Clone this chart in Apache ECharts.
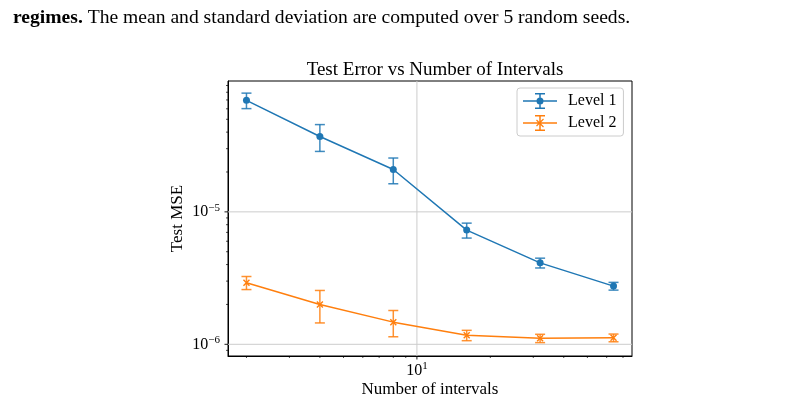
<!DOCTYPE html>
<html>
<head>
<meta charset="utf-8">
<script src="https://cdn.jsdelivr.net/npm/echarts@6/dist/echarts.min.js"></script>
<style>
  html, body { margin: 0; padding: 0; background: #fff; }
  #chart { width: 800px; height: 401px; }
</style>
</head>
<body>
<div id="chart"></div>
<script>
// data
var intervals = [2, 4, 8, 16, 32, 64];
var level1Mean = [6.95e-5, 3.71e-5, 2.09e-5, 7.28e-6, 4.12e-6, 2.75e-6];
var level1Std = [0.93e-5, 0.85e-5, 0.46e-5, 0.94e-6, 0.35e-6, 0.185e-6];
var level2Mean = [2.92e-6, 2.00e-6, 1.47e-6, 1.17e-6, 1.11e-6, 1.12e-6];
var level2Std = [0.33e-6, 0.55e-6, 0.33e-6, 0.105e-6, 0.08e-6, 0.075e-6];

// axis ranges and tick values
var xMin = 1.68, xMax = 76.2;
var yMin = 8.16e-7, yMax = 9.73e-5;
var xTicks = [2, 3, 4, 5, 6, 7, 8, 9, 10, 20, 30, 40, 50, 60, 70];
var xMajor = [10];
var yTicks = [9e-7, 1e-6, 2e-6, 3e-6, 4e-6, 5e-6, 6e-6, 7e-6, 8e-6, 9e-6,
              1e-5, 2e-5, 3e-5, 4e-5, 5e-5, 6e-5, 7e-5, 8e-5, 9e-5];
var yMajor = [1e-6, 1e-5];

var blue = '#1f77b4', orange = '#ff7f0e';
var serif = '"Liberation Serif", "DejaVu Serif", serif';

var crossSymbol = 'path://M0,1L1,0L7,6L6,7Z M6,0L7,1L1,7L0,6Z';
var iconL1 = 'path://M0 7.25H34V8.75H0Z M16.25 0H17.75V16H16.25Z M12 0H22V1.5H12Z M12 14.5H22V16H12Z M13.5 8A3.5 3.5 0 1 1 20.5 8A3.5 3.5 0 1 1 13.5 8Z';
var iconL2 = 'path://M0 7.25H34V8.75H0Z M16.25 0H17.75V16H16.25Z M12 0H22V1.5H12Z M12 14.5H22V16H12Z ' +
    'M13.92 4.58L20.92 11.58L20.08 12.42L13.08 5.42Z M13.92 11.42L13.08 10.58L20.08 3.58L20.92 4.42Z';

function isPow10(v) {
    var l = Math.log(v) / Math.LN10;
    return Math.abs(l - Math.round(l)) < 1e-6;
}
function inList(v, list) {
    for (var i = 0; i < list.length; i++) {
        if (Math.abs(v / list[i] - 1) < 1e-6) return true;
    }
    return false;
}
function powLabel(v) {
    if (!isPow10(v)) return '';
    var e = Math.round(Math.log(v) / Math.LN10);
    var s = String(e).replace('-', '\u2212');
    return '{b|10}{s|' + s + '}';
}

function errData(mean, std) {
    return intervals.map(function (x, i) {
        return [x, mean[i] - std[i], mean[i] + std[i]];
    });
}

function errorBarSeries(name, color, data) {
    return {
        name: name,
        type: 'custom',
        z: 3,
        renderItem: function (params, api) {
            var x = api.value(0);
            var lo = api.coord([x, api.value(1)]);
            var hi = api.coord([x, api.value(2)]);
            var half = 5;
            var style = { stroke: color, lineWidth: 1.5, opacity: 0.85 };
            return {
                type: 'group',
                children: [
                    { type: 'line', shape: { x1: lo[0], y1: lo[1], x2: hi[0], y2: hi[1] }, style: style },
                    { type: 'line', shape: { x1: lo[0] - half, y1: lo[1], x2: lo[0] + half, y2: lo[1] }, style: style },
                    { type: 'line', shape: { x1: hi[0] - half, y1: hi[1], x2: hi[0] + half, y2: hi[1] }, style: style }
                ]
            };
        },
        data: data
    };
}

var gridColor = '#cccccc';

// ticks and grid lines on the x axis
var xTickSeries = {
    name: 'xticks',
    type: 'custom',
    z: 1,
    silent: true,
    renderItem: function (params, api) {
        var cs = params.coordSys;
        var v = api.value(0);
        var p = api.coord([v, yMin]);
        var major = inList(v, xMajor);
        var bottom = cs.y + cs.height;
        var children = [{
            type: 'line',
            shape: { x1: p[0], y1: bottom, x2: p[0], y2: bottom + (major ? 3.5 : 2) },
            style: { stroke: '#000', lineWidth: major ? 0.9 : 0.7 }
        }];
        if (major) {
            children.push({
                type: 'line',
                shape: { x1: p[0], y1: cs.y, x2: p[0], y2: bottom },
                style: { stroke: gridColor, lineWidth: 1 }
            });
        }
        return { type: 'group', children: children };
    },
    data: xTicks.map(function (v) { return [v, yMin]; })
};

// ticks and grid lines on the y axis
var yTickSeries = {
    name: 'yticks',
    type: 'custom',
    z: 1,
    silent: true,
    renderItem: function (params, api) {
        var cs = params.coordSys;
        var v = api.value(1);
        var p = api.coord([xMin, v]);
        var major = inList(v, yMajor);
        var children = [{
            type: 'line',
            shape: { x1: cs.x, y1: p[1], x2: cs.x - (major ? 3.5 : 2), y2: p[1] },
            style: { stroke: '#000', lineWidth: major ? 0.9 : 0.7 }
        }];
        if (major) {
            children.push({
                type: 'line',
                shape: { x1: cs.x, y1: p[1], x2: cs.x + cs.width, y2: p[1] },
                style: { stroke: gridColor, lineWidth: 1 }
            });
        }
        return { type: 'group', children: children };
    },
    data: yTicks.map(function (v) { return [xMin, v]; })
};

var chart = echarts.init(document.getElementById('chart'));
var option = {
    backgroundColor: '#fff',
    animation: false,
    title: [
        {
            text: '{b|regimes.} The mean and standard deviation are computed over 5 random seeds.',
            left: 8,
            top: 3,
            textStyle: {
                fontFamily: serif,
                fontSize: 19.6,
                fontWeight: 'normal',
                color: '#000',
                rich: {
                    b: { fontFamily: serif, fontSize: 19.6, fontWeight: 'bold', color: '#000' }
                }
            }
        },
        {
            text: 'Test Error vs Number of Intervals',
            left: 430,
            textAlign: 'center',
            top: 56,
            textStyle: { fontFamily: serif, fontSize: 19, fontWeight: 'normal', color: '#000' }
        }
    ],
    legend: {
        orient: 'vertical',
        left: 517,
        top: 88,
        padding: [5, 7, 5, 6],
        itemWidth: 34,
        itemHeight: 16,
        itemGap: 6,
        backgroundColor: 'rgba(255,255,255,0.8)',
        borderColor: '#cccccc',
        borderWidth: 1,
        borderRadius: 3,
        itemStyle: { borderWidth: 0 },
        textStyle: { fontFamily: serif, fontSize: 16, color: '#000', padding: [0, 0, 0, 6] },
        data: [
            { name: 'Level 1', icon: iconL1 },
            { name: 'Level 2', icon: iconL2 }
        ]
    },
    grid: {
        left: 228,
        top: 81,
        width: 404,
        height: 275,
        outerBoundsMode: 'none',
        containLabel: false,
        show: true,
        borderColor: '#000',
        borderWidth: 1,
        backgroundColor: 'transparent'
    },
    xAxis: {
        type: 'log',
        logBase: 10,
        min: xMin,
        max: xMax,
        name: 'Number of intervals',
        nameLocation: 'middle',
        nameGap: 25,
        nameMoveOverlap: false,
        nameTextStyle: { fontFamily: serif, fontSize: 17, color: '#000' },
        axisLine: { show: true, lineStyle: { color: '#000', width: 1 } },
        axisTick: { show: false },
        splitLine: { show: false },
        axisLabel: {
            margin: 5,
            formatter: powLabel,
            showMinLabel: false,
            showMaxLabel: false,
            rich: {
                b: { fontFamily: serif, fontSize: 16, color: '#000' },
                s: { fontFamily: serif, fontSize: 11, color: '#000', padding: [0, 0, 8, 0] }
            }
        }
    },
    yAxis: {
        type: 'log',
        logBase: 10,
        min: yMin,
        max: yMax,
        name: 'Test MSE',
        nameLocation: 'middle',
        nameRotate: 90,
        nameGap: 42,
        nameMoveOverlap: false,
        nameTextStyle: { fontFamily: serif, fontSize: 17, color: '#000' },
        axisLine: { show: true, lineStyle: { color: '#000', width: 1 } },
        axisTick: { show: false },
        splitLine: { show: false },
        axisLabel: {
            margin: 8,
            formatter: powLabel,
            showMinLabel: false,
            showMaxLabel: false,
            rich: {
                b: { fontFamily: serif, fontSize: 16, color: '#000' },
                s: { fontFamily: serif, fontSize: 11, color: '#000', padding: [0, 0, 8, 0] }
            }
        }
    },
    series: [
        xTickSeries,
        yTickSeries,
        errorBarSeries('Level 1 err', blue, errData(level1Mean, level1Std)),
        errorBarSeries('Level 2 err', orange, errData(level2Mean, level2Std)),
        {
            name: 'Level 1',
            type: 'line',
            z: 4,
            symbol: 'circle',
            symbolSize: 7,
            lineStyle: { color: blue, width: 1.5 },
            itemStyle: { color: blue, borderWidth: 0 },
            data: intervals.map(function (x, i) { return [x, level1Mean[i]]; })
        },
        {
            name: 'Level 2',
            type: 'line',
            z: 4,
            symbol: crossSymbol,
            symbolSize: 7,
            lineStyle: { color: orange, width: 1.5 },
            itemStyle: { color: orange, borderWidth: 0 },
            data: intervals.map(function (x, i) { return [x, level2Mean[i]]; })
        }
    ]
};
chart.setOption(option);
</script>
</body>
</html>
